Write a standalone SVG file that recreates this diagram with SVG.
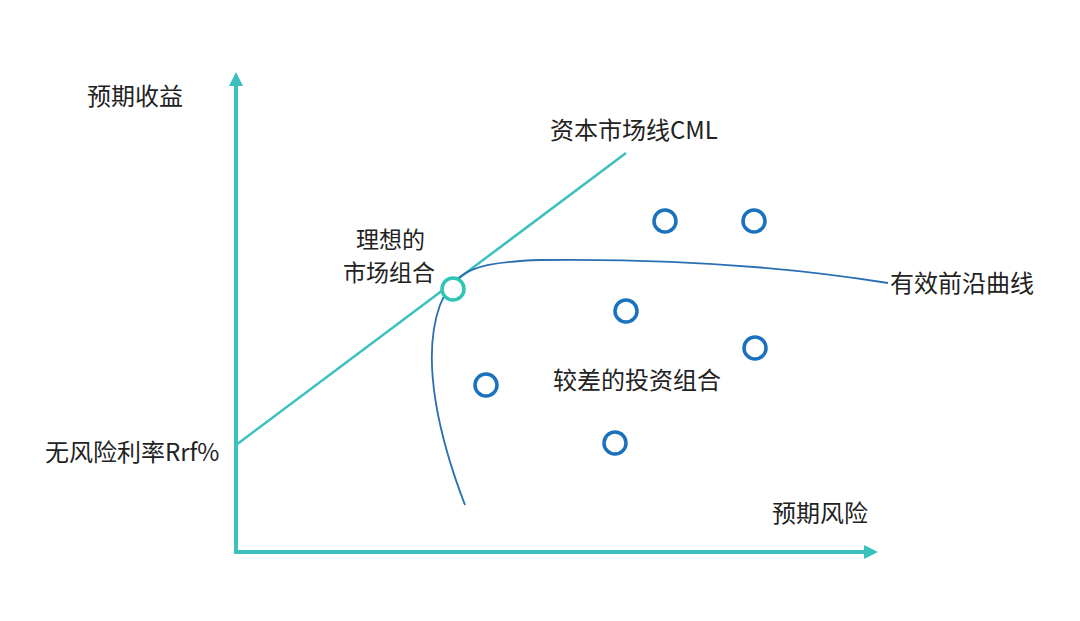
<svg xmlns="http://www.w3.org/2000/svg" width="1080" height="621" viewBox="0 0 1080 621">
<style>
text{font-family:"Noto Sans CJK SC","Noto Sans",sans-serif;font-size:24px;fill:#222}
.sm{font-size:23px}
.ax{stroke:#3cc0bd;stroke-width:4;fill:none}
.dot{fill:#fff;stroke:#1a72bf;stroke-width:3.5}
</style>
<defs>
<marker id="ah2" markerWidth="14" markerHeight="14" refX="2" refY="7" orient="auto" markerUnits="userSpaceOnUse" viewBox="0 0 14 14"><path d="M0,0 L14,7 L0,14 z" fill="#3cc0bd"/></marker></defs>
<rect width="1080" height="621" fill="#fff"/>
<g id="connectors">
<path class="ax" d="M236,552 V84" marker-end="url(#ah2)"/>
<path class="ax" d="M234,552 H866" marker-end="url(#ah2)"/>
<path d="M236,445 L626,153" stroke="#3cc0bd" stroke-width="2.5" fill="none"/>
<path d="M465,505 C440,440 420,360 440,305 C455,268 480,262 540,260 C700,258 820,272 888,283" stroke="#2a6fb3" stroke-width="1.8" fill="none"/>
</g>
<g id="ideal"><circle cx="453" cy="289" r="11" fill="#fff" stroke="#2ec4b6" stroke-width="3.5"/></g>
<g id="p1"><circle class="dot" cx="665" cy="221" r="11"/></g>
<g id="p2"><circle class="dot" cx="754" cy="221" r="11"/></g>
<g id="p3"><circle class="dot" cx="626" cy="311" r="11"/></g>
<g id="p4"><circle class="dot" cx="755" cy="348" r="11"/></g>
<g id="p5"><circle class="dot" cx="486" cy="385" r="11"/></g>
<g id="p6"><circle class="dot" cx="615" cy="443" r="11"/></g>
<g id="labels">
<text x="87" y="105">预期收益</text>
<text x="550" y="139">资本市场线CML</text>
<text class="sm" x="356" y="248">理想的</text>
<text class="sm" x="343" y="281">市场组合</text>
<text x="890" y="292">有效前沿曲线</text>
<text x="553" y="389">较差的投资组合</text>
<text x="45" y="461">无风险利率Rrf%</text>
<text x="772" y="522">预期风险</text>
</g>
</svg>
